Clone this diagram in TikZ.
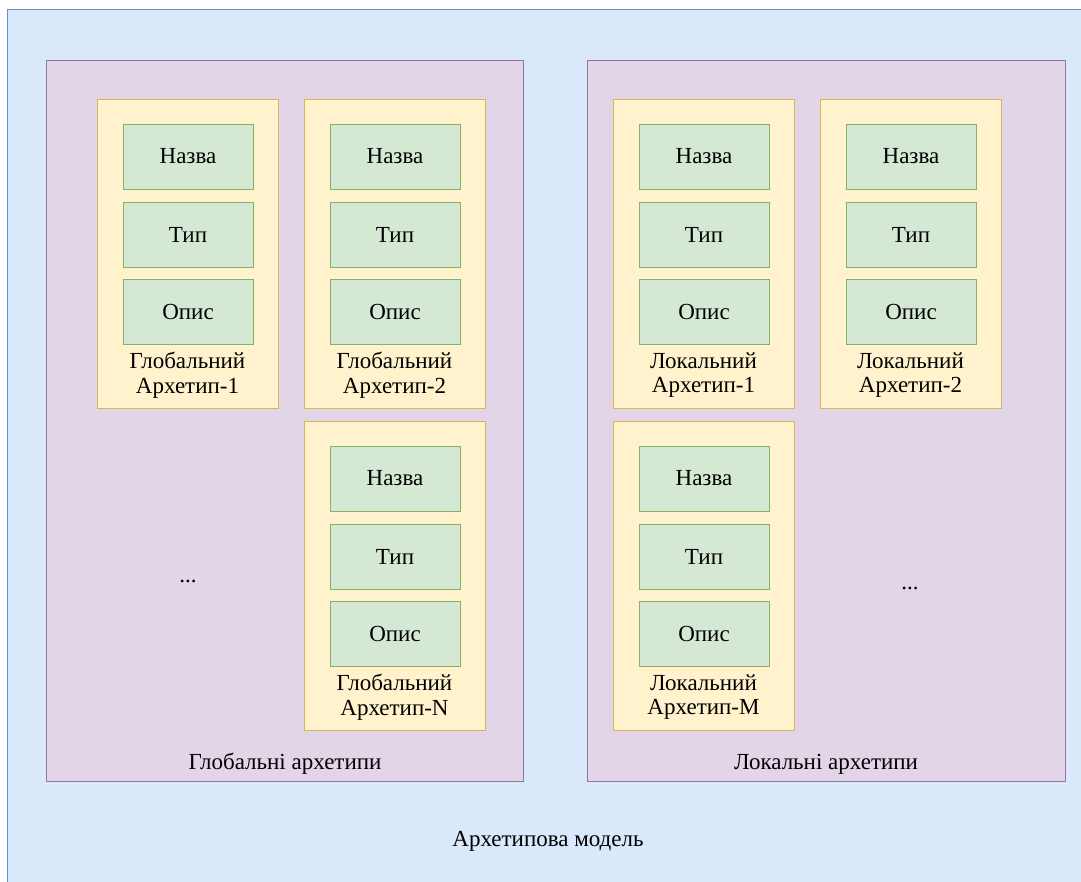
\documentclass[tikz,border=0pt]{standalone}
\usepackage{fontspec}
\setmainfont{Liberation Serif}
\definecolor{bfill}{HTML}{DAE8FC}\definecolor{bline}{HTML}{6C8EBF}
\definecolor{pfill}{HTML}{E1D5E7}\definecolor{pline}{HTML}{9673A6}
\definecolor{yfill}{HTML}{FFF2CC}\definecolor{yline}{HTML}{D6B656}
\definecolor{gfill}{HTML}{D5E8D4}\definecolor{gline}{HTML}{82B366}
\tikzset{
  outerbox/.style={draw=bline,fill=bfill,line width=1pt},
  groupbox/.style={draw=pline,fill=pfill,line width=1pt},
  archbox/.style={draw=yline,fill=yfill,line width=1pt},
  fieldbox/.style={draw=gline,fill=gfill,line width=1pt,minimum width=130pt,minimum height=65pt,inner sep=0pt,font=\fontsize{23}{24.5}\selectfont},
  lbl/.style={font=\fontsize{23}{24.5}\selectfont,align=center,inner sep=0pt}
}
\newcommand{\archetype}[4]{% name, left x, top y, label
  \draw[archbox] (#2,#3) rectangle ++(181,309);
  \node[fieldbox] (#1n) at (#2+91,#3+57.5) {Назва};
  \node[fieldbox] (#1t) at (#2+91,#3+135.5) {Тип};
  \node[fieldbox] (#1o) at (#2+91,#3+212.5) {Опис};
  \node[lbl] (#1l) at (#2+90.5,#3+276) {#4};
}
\begin{document}
\begin{tikzpicture}[x=1pt,y=-1pt]
\useasboundingbox (0,0) rectangle (1081,881);
\clip (0,0) rectangle (1081,881);
\draw[outerbox] (7,9) rectangle (1095,895);
\draw[groupbox] (46,60) rectangle (523,781);
\draw[groupbox] (587,60) rectangle (1065,781);
\archetype{ga}{97}{99}{Глобальний\\Архетип-1}
\archetype{gb}{304}{99}{Глобальний\\Архетип-2}
\archetype{gn}{304}{421}{Глобальний\\Архетип-N}
\archetype{la}{613}{99}{Локальний\\Архетип-1}
\archetype{lb}{820}{99}{Локальний\\Архетип-2}
\archetype{lm}{613}{421}{Локальний\\Архетип-M}
\node[lbl] (gdots) at (188,581) {...};
\node[lbl] (ldots) at (910,588) {...};
\node[lbl] (gtitle) at (285,764) {Глобальні архетипи};
\node[lbl] (ltitle) at (826,764) {Локальні архетипи};
\node[lbl] (mtitle) at (548,841) {Архетипова модель};
\end{tikzpicture}
\end{document}
